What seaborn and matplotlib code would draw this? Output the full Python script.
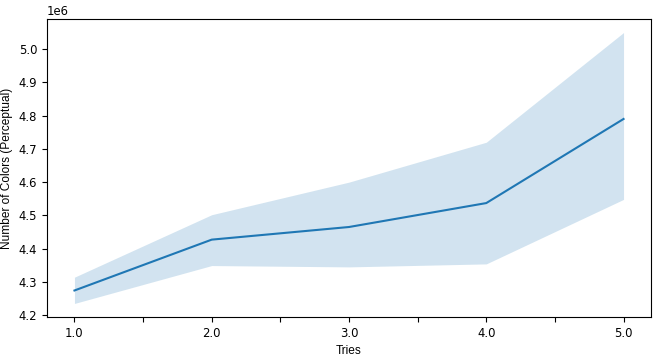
import numpy as np
import matplotlib
matplotlib.use('Agg')
import matplotlib.pyplot as plt
import seaborn as sns

tries = [1.0, 2.0, 3.0, 4.0, 5.0]
colors_mean = [4.274e6, 4.427e6, 4.465e6, 4.537e6, 4.790e6]
colors_low = [4.235e6, 4.349e6, 4.345e6, 4.354e6, 4.548e6]
colors_high = [4.314e6, 4.502e6, 4.600e6, 4.720e6, 5.050e6]

xtick_pos = [1.0, 1.5, 2.0, 2.5, 3.0, 3.5, 4.0, 4.5, 5.0]
xtick_labels = ['1.0', '', '2.0', '', '3.0', '', '4.0', '', '5.0']

fig, ax = plt.subplots(figsize=(6.56, 3.58), dpi=100)
sns.lineplot(x=tries, y=colors_mean, ax=ax, color='C0')
ax.fill_between(tries, colors_low, colors_high, color='C0', alpha=0.2, linewidth=0)

ax.set_xticks(xtick_pos)
ax.set_xticklabels(xtick_labels)
ax.tick_params(labelsize=8.4)
ax.yaxis.get_offset_text().set_fontsize(8.4)
ax.set_xlabel('Tries', family='Liberation Sans', fontsize=8.6)
ax.set_ylabel('Number of Colors (Perceptual)', family='Liberation Sans', fontsize=8.6)

plt.subplots_adjust(left=47/656, right=651/656, top=1-19/358, bottom=1-317/358)
# labels sit tight to the edges, like the original
ax.yaxis.set_label_coords(-0.057, 0.5)
ax.xaxis.set_label_coords(0.5, -0.093)
plt.savefig('out.png', dpi=100)
plt.close()
